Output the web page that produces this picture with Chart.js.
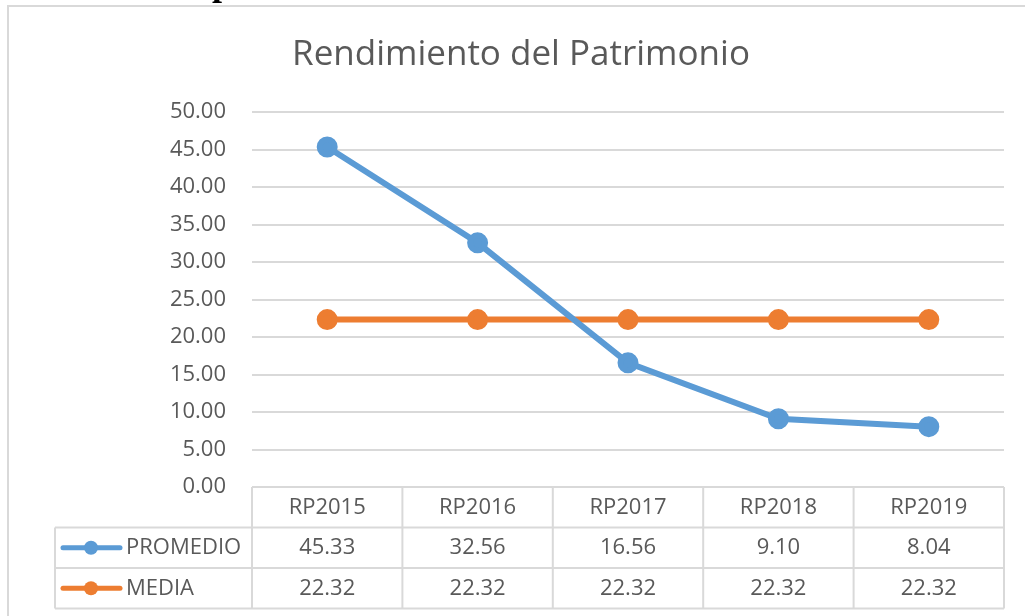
<!DOCTYPE html>
<html>
<head>
<meta charset="utf-8">
<script src="https://cdn.jsdelivr.net/npm/chart.js@4/dist/chart.umd.min.js"></script>
<style>
  body { margin: 0; background: #fff; }
  #wrap { position: relative; width: 1025px; height: 616px; overflow: hidden; }
  #cut { position: absolute; left: 212px; top: -35px; font: bold 36px "Liberation Serif", serif; line-height: 36px; color: #000; }
</style>
</head>
<body>
<div id="wrap">
  <canvas id="resultsChart" width="1025" height="616"></canvas>
  <span id="cut">p</span>
</div>
<script>
const categories = ['RP2015', 'RP2016', 'RP2017', 'RP2018', 'RP2019'];
const promedio = [45.33, 32.56, 16.56, 9.10, 8.04];
const media = [22.32, 22.32, 22.32, 22.32, 22.32];
const seriesNames = ['PROMEDIO', 'MEDIA'];
const seriesColors = ['#5b9bd5', '#ed7d31'];

const gray = '#595959';
const lineGray = '#d9d9d9';
const font = '"Open Sans", "Noto Sans", sans-serif';

// frame around the whole chart
const framePlugin = {
    id: 'frame',
    beforeDraw(chart) {
        const c = chart.ctx;
        c.save();
        c.strokeStyle = lineGray;
        c.lineWidth = 2;
        c.beginPath();
        c.moveTo(8, chart.height);
        c.lineTo(8, 6);
        c.lineTo(chart.width, 6);
        c.stroke();
        c.restore();
    }
};

// data table under the plot, like excel
const tablePlugin = {
    id: 'dataTable',
    afterDraw(chart) {
        const c = chart.ctx;
        const x = chart.scales.x;
        const area = chart.chartArea;
        const colW = (area.right - area.left) / categories.length;
        const top = area.bottom;
        const rowH = 40.5;
        const tableLeft = 55;
        c.save();
        c.strokeStyle = lineGray;
        c.lineWidth = 2;
        c.beginPath();
        for (let i = 0; i <= categories.length; i++) {
            const px = area.left + i * colW;
            c.moveTo(px, top);
            c.lineTo(px, top + rowH * 3);
        }
        for (let r = 1; r <= 3; r++) {
            c.moveTo(tableLeft, top + rowH * r);
            c.lineTo(area.right, top + rowH * r);
        }
        c.moveTo(tableLeft, top + rowH);
        c.lineTo(tableLeft, top + rowH * 3);
        c.stroke();

        c.fillStyle = gray;
        c.font = '22px ' + font;
        c.textBaseline = 'middle';
        c.textAlign = 'center';
        categories.forEach((cat, i) => {
            c.fillText(cat, x.getPixelForValue(i), top + rowH * 0.5);
        });
        const rows = [promedio, media];
        rows.forEach((vals, r) => {
            const cy = top + rowH * (r + 1.5);
            c.textAlign = 'center';
            vals.forEach((v, i) => {
                c.fillText(v.toFixed(2), x.getPixelForValue(i), cy);
            });
            // legend key
            c.strokeStyle = seriesColors[r];
            c.lineWidth = 5;
            c.lineCap = 'round';
            c.beginPath();
            c.moveTo(63, cy);
            c.lineTo(120, cy);
            c.stroke();
            c.fillStyle = seriesColors[r];
            c.beginPath();
            c.arc(91, cy, 7, 0, Math.PI * 2);
            c.fill();
            c.fillStyle = gray;
            c.textAlign = 'left';
            c.fillText(seriesNames[r], 126, cy);
        });
        c.restore();
    }
};

const ctx = document.getElementById('resultsChart').getContext('2d');
// eslint-disable-next-line no-undef
new Chart(ctx, {
    type: 'line',
    data: {
        labels: categories,
        datasets: [
            {
                label: seriesNames[0],
                data: promedio,
                borderColor: seriesColors[0],
                backgroundColor: seriesColors[0],
                borderWidth: 6,
                pointRadius: 7.5,
                pointHoverRadius: 7.5,
                tension: 0
            },
            {
                label: seriesNames[1],
                data: media,
                borderColor: seriesColors[1],
                backgroundColor: seriesColors[1],
                borderWidth: 6,
                pointRadius: 7.5,
                pointHoverRadius: 7.5,
                tension: 0
            }
        ]
    },
    options: {
        responsive: false,
        animation: false,
        layout: { padding: { left: 38, right: 21, top: 0, bottom: 129 } },
        plugins: {
            legend: { display: false },
            tooltip: { enabled: false },
            title: {
                display: true,
                text: 'Rendimiento del Patrimonio',
                color: gray,
                font: { family: font, size: 35, weight: 'normal' },
                padding: { top: 34, bottom: 36 }
            }
        },
        scales: {
            x: {
                display: false,
                offset: true
            },
            y: {
                min: 0,
                max: 50,
                afterFit(scale) { scale.width = 214; },
                ticks: {
                    stepSize: 5,
                    padding: 26,
                    color: gray,
                    font: { family: font, size: 22 },
                    callback: v => v.toFixed(2)
                },
                grid: { color: lineGray, lineWidth: 2, drawTicks: false },
                border: { display: false }
            }
        }
    },
    plugins: [framePlugin, tablePlugin]
});
</script>
</body>
</html>
